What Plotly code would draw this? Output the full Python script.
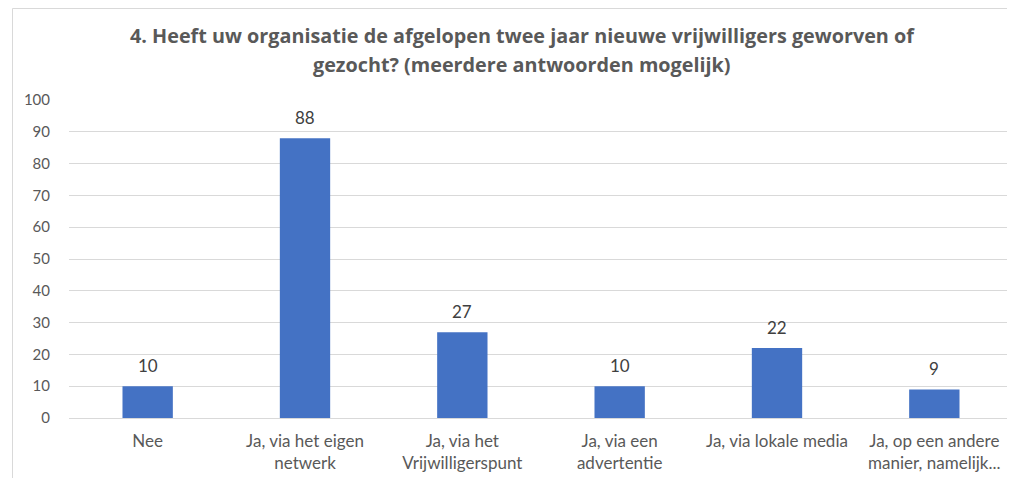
import plotly.graph_objects as go

categories = ["Nee", "Ja, via het eigen<br>netwerk", "Ja, via het<br>Vrijwilligerspunt",
              "Ja, via een<br>advertentie", "Ja, via lokale media",
              "Ja, op een andere<br>manier, namelijk..."]
values = [10, 88, 27, 10, 22, 9]
title_lines = ["4. Heeft uw organisatie de afgelopen twee jaar nieuwe vrijwilligers geworven of",
               "gezocht? (meerdere antwoorden mogelijk)"]
y_ticks = list(range(0, 101, 10))

FONT = "Lato"
TITLE_FONT = "Open Sans"
fig = go.Figure(go.Bar(
    x=categories, y=values, marker=dict(color="#4472C4", line=dict(width=0)),
    cliponaxis=False, hoverinfo="x+y",
))

# page is offset by 8px body margin; figure coordinates = page - 8
OFF = 8
W, H = 1015 - OFF, 478 - OFF
L, T = 69 - OFF, 100 - OFF
B = H - (418 - OFF)
R = W - (1013 - OFF)
pw, ph = W - L - R, H - T - B

def px_x(px):
    return (px - OFF - L) / pw

def px_y(py):
    return (H - B - (py - OFF)) / ph

annotations = [
    dict(text=f"<b>{title_lines[0]}</b>", xref="paper", yref="paper", x=px_x(522), y=px_y(35.5),
         xanchor="center", yanchor="middle", showarrow=False,
         font=dict(family=TITLE_FONT, size=19.8, color="#595959")),
    dict(text=f"<b>{title_lines[1]}</b>", xref="paper", yref="paper", x=px_x(522), y=px_y(64.5),
         xanchor="center", yanchor="middle", showarrow=False,
         font=dict(family=TITLE_FONT, size=19.8, color="#595959")),
]
for c, v in zip(categories, values):
    annotations.append(dict(text=str(v), x=c, y=v, xref="x", yref="y", yanchor="bottom",
                            yshift=8, showarrow=False,
                            font=dict(family=FONT, size=17, color="#404040")))

fig.update_layout(
    width=W, height=H, margin=dict(l=L, r=R, t=T, b=B),
    paper_bgcolor="white", plot_bgcolor="white", showlegend=False,
    bargap=0.68,
    font=dict(family=FONT, color="#595959"),
    xaxis=dict(showgrid=False, showline=False, ticks="", tickfont=dict(size=17, color="#595959"),
               ticklabelstandoff=11),
    yaxis=dict(range=[0, 100], tickvals=y_ticks, showgrid=True, gridcolor="#D9D9D9", gridwidth=1,
               zeroline=True, zerolinecolor="#D9D9D9", zerolinewidth=1, showline=False,
               tickfont=dict(size=15, color="#595959"), ticks="", ticklabelstandoff=18),
    shapes=[dict(type="rect", xref="paper", yref="paper",
                 x0=px_x(12.5), x1=px_x(1030), y0=px_y(500), y1=px_y(8.5),
                 line=dict(color="#D9D9D9", width=1), fillcolor="rgba(0,0,0,0)", layer="below")],
    annotations=annotations,
)

fig.write_html("out.html")
